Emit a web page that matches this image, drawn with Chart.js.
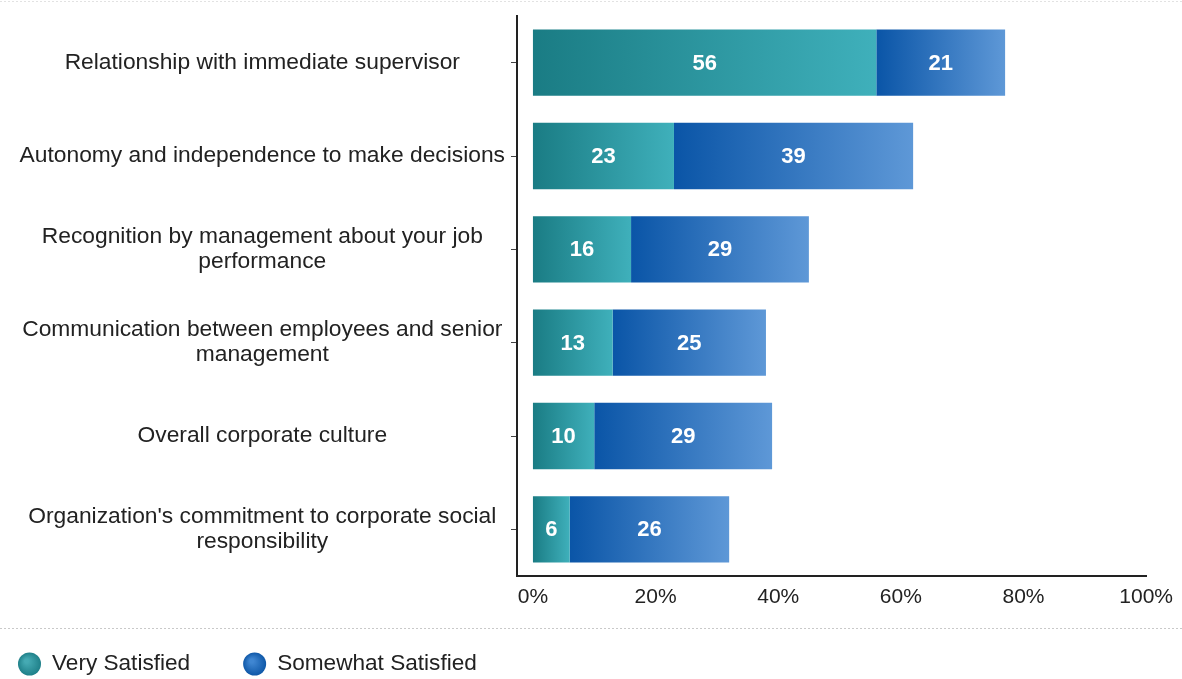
<!DOCTYPE html>
<html>
<head>
<meta charset="utf-8">
<title>Job satisfaction</title>
<script src="https://cdn.jsdelivr.net/npm/chart.js@4.4.0/dist/chart.umd.min.js"></script>
<style>
  html, body { margin: 0; padding: 0; background: #fff; }
  #wrap { width: 1182px; height: 679px; position: relative; }
</style>
</head>
<body>
<div id="wrap"><canvas id="satisfactionChart"></canvas></div>
<script>
const categories = [
  'Relationship with immediate supervisor',
  'Autonomy and independence to make decisions',
  ['Recognition by management about your job', 'performance'],
  ['Communication between employees and senior', 'management'],
  'Overall corporate culture',
  ["Organization's commitment to corporate social", 'responsibility']
];
const verySatisfied = [56, 23, 16, 13, 10, 6];
const somewhatSatisfied = [21, 39, 29, 25, 29, 26];
const xTicks = [0, 20, 40, 60, 80, 100];

const FONT = '"Liberation Sans", Arial, Helvetica, sans-serif';
Chart.defaults.font.family = FONT;
Chart.defaults.color = '#222';

// horizontal gradient spanning each stacked segment
function segmentGradient(from, to) {
  return (ctx) => {
    const chart = ctx.chart;
    const x = chart.scales.x;
    if (ctx.type !== 'data' || !chart.chartArea || !x) return from;
    const i = ctx.dataIndex;
    let start = 0;
    for (let d = 0; d < ctx.datasetIndex; d++) start += chart.data.datasets[d].data[i];
    const end = start + chart.data.datasets[ctx.datasetIndex].data[i];
    const g = chart.ctx.createLinearGradient(x.getPixelForValue(start), 0, x.getPixelForValue(end), 0);
    g.addColorStop(0, from);
    g.addColorStop(1, to);
    return g;
  };
}

const valueLabels = {
  id: 'valueLabels',
  afterDatasetsDraw(chart) {
    const ctx = chart.ctx;
    ctx.save();
    ctx.font = 'bold 22px ' + FONT;
    ctx.fillStyle = '#fff';
    ctx.textAlign = 'center';
    ctx.textBaseline = 'middle';
    chart.data.datasets.forEach((ds, di) => {
      chart.getDatasetMeta(di).data.forEach((bar, i) => {
        const p = bar.getCenterPoint();
        ctx.fillText(ds.data[i], p.x, p.y + 1);
      });
    });
    ctx.restore();
  }
};

// dotted rules + legend row along the bottom
const bottomLegend = {
  id: 'bottomLegend',
  afterDraw(chart) {
    const ctx = chart.ctx;
    const w = chart.width, h = chart.height;
    ctx.save();
    ctx.lineWidth = 1;
    ctx.setLineDash([2, 2]);
    ctx.strokeStyle = '#e2e2e2';
    ctx.beginPath();
    ctx.moveTo(0, 1.5);
    ctx.lineTo(w, 1.5);
    ctx.stroke();
    ctx.strokeStyle = '#c9c9c9';
    ctx.beginPath();
    ctx.moveTo(0, h - 50.5);
    ctx.lineTo(w, h - 50.5);
    ctx.stroke();
    ctx.setLineDash([]);

    ctx.font = '22.6px ' + FONT;
    ctx.textBaseline = 'middle';
    const y = h - 15;
    let x = 18;
    chart.data.datasets.forEach((ds) => {
      const r = 11.5;
      const g = ctx.createRadialGradient(x + r - 3, y - 3, 2, x + r, y, r);
      g.addColorStop(0, ds.legendLight);
      g.addColorStop(1, ds.legendDark);
      ctx.fillStyle = g;
      ctx.beginPath();
      ctx.arc(x + r, y, r, 0, Math.PI * 2);
      ctx.fill();
      ctx.fillStyle = '#222';
      ctx.fillText(ds.label, x + 34, y);
      x += 34 + ctx.measureText(ds.label).width + 53;
    });
    ctx.restore();
  }
};

new Chart(document.getElementById('satisfactionChart'), {
  type: 'bar',
  data: {
    labels: categories,
    datasets: [
      {
        label: 'Very Satisfied',
        data: verySatisfied,
        backgroundColor: segmentGradient('#1a7c84', '#3fb0bb'),
        legendLight: '#45aab3',
        legendDark: '#1f8089'
      },
      {
        label: 'Somewhat Satisfied',
        data: somewhatSatisfied,
        backgroundColor: segmentGradient('#0a55a7', '#5e98d7'),
        legendLight: '#3f86d2',
        legendDark: '#0f58a8'
      }
    ]
  },
  options: {
    indexAxis: 'y',
    responsive: true,
    maintainAspectRatio: false,
    animation: false,
    layout: { padding: { top: 16, right: 34, bottom: 69, left: 0 } },
    datasets: {
      bar: { barPercentage: 0.71, categoryPercentage: 1, borderWidth: 0 }
    },
    scales: {
      x: {
        stacked: true,
        min: -2.6,
        max: 100,
        afterBuildTicks: (scale) => { scale.ticks = xTicks.map(v => ({ value: v })); },
        afterFit: (scale) => { scale.height = 34; },
        grid: { display: false, drawTicks: false },
        border: { display: true, color: '#222', width: 2 },
        ticks: {
          padding: 9,
          font: { size: 21 },
          color: '#222',
          callback: (v) => v + '%'
        }
      },
      y: {
        stacked: true,
        afterFit: (scale) => {
          scale.width = 517;
          // labels sit inside their bands, no overhang needed
          scale.paddingTop = 0;
          scale.paddingBottom = 0;
        },
        grid: { display: true, drawOnChartArea: false, drawTicks: true, tickLength: 6, offset: false, color: '#444', lineWidth: 1 },
        border: { display: true, color: '#222', width: 2 },
        ticks: {
          crossAlign: 'center',
          padding: 6,
          color: '#222',
          font: { size: 22.8, lineHeight: 1.1 }
        }
      }
    },
    plugins: {
      legend: { display: false },
      tooltip: { enabled: false }
    }
  },
  plugins: [valueLabels, bottomLegend]
});
</script>
</body>
</html>
